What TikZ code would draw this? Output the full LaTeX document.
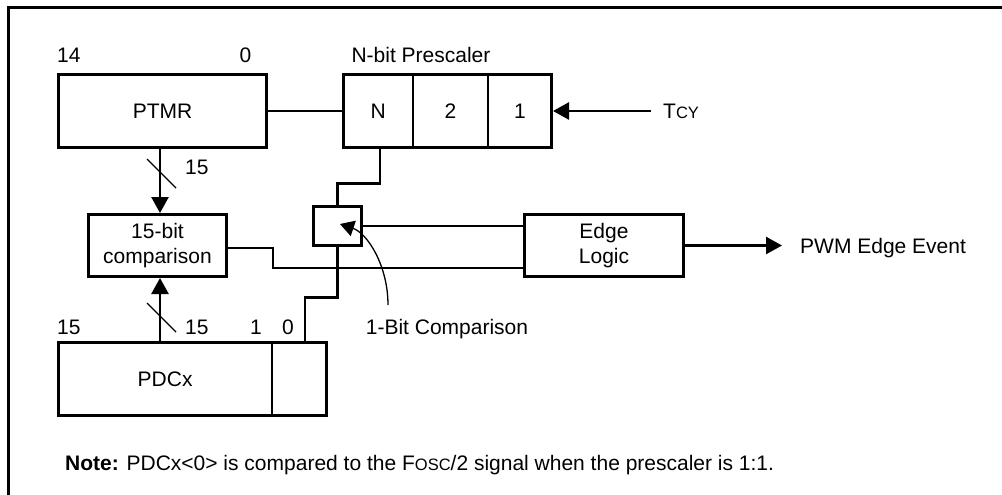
\documentclass[tikz,border=0pt]{standalone}
\usepackage{fontspec}
\setmainfont{Liberation Sans}
\usetikzlibrary{arrows.meta,calc}
\newcommand{\mysc}[1]{{\fontsize{16.5}{18}\selectfont #1}}
\begin{document}
\begin{tikzpicture}[x=1pt,y=-1pt,
  every node/.style={font=\fontsize{21}{25}\selectfont},
  box/.style 2 args={draw, line width=2.6pt, inner sep=0pt, minimum width=#1, minimum height=#2, align=center},
  lbl/.style={inner sep=0pt, text height=15pt, text depth=0pt},
  wire/.style={line width=2.6pt},
  arr/.style={wire, -{Triangle[length=16pt,width=17pt]}},
  thinln/.style={line width=1.3pt},
  line join=miter]
\useasboundingbox (0,0) rectangle (1002,495);
% frame
\draw[line width=2.6pt] (8.5,495) -- (8.5,7.8) -- (1002,7.8);

% blocks
\node[box={208.4}{73.4}] (ptmr) at (162.5,111) {PTMR};
\node[box={69.7}{73.4}] (pN) at (378.15,111) {N};
\node[box={75}{73.4}] (p2) at (450.5,111) {2};
\node[box={63.7}{73.4}] (p1) at (519.85,111) {1};
\node[box={138.4}{62.4}] (cmp) at (157.5,245.5) {15-bit\\comparison};
\node[box={48.4}{39.4}] (bitbox) at (337.5,226) {};
\node[box={159.4}{62.4}] (edge) at (604,245.5) {Edge\\Logic};
\node[box={213.7}{73.4}] (pdcx) at (165.15,379) {PDCx};
\node[box={54.7}{73.4}] (pdc0) at (299.35,379) {};

% labels
\node[lbl, anchor=west] (l14) at (57,55) {14};
\node[lbl] (l0) at (245.5,55) {0};
\node[lbl] (lpre) at (421,55) {N-bit Prescaler};
\node[lbl, anchor=west] (l15a) at (185,167) {15};
\node[lbl, anchor=west] (l15b) at (185,327) {15};
\node[lbl, anchor=west] (l15c) at (57,327) {15};
\node[lbl] (lb1) at (256,327) {1};
\node[lbl] (lb0) at (288,327) {0};
\node[lbl] (l1bit) at (447,327) {1-Bit Comparison};
\node[lbl, anchor=west] (pwm) at (800,245.5) {PWM Edge Event};
\node[lbl, anchor=west] (tcy) at (663,111) {T\mysc{CY}};
\node[lbl, anchor=west] (note) at (65,463) {\textbf{Note:} PDCx<0> is compared to the F\mysc{OSC}/2 signal when the prescaler is 1:1.};

% helper coordinates
\coordinate (c1) at (160,0);
\coordinate (j1) at (380,183.5);
\coordinate (j2) at (273,268);
\coordinate (j3) at (0,248);
\coordinate (j4) at (305,297.5);
\coordinate (pwmtip) at (782,245.5);
\coordinate (tcyst) at (651,111);
\coordinate (cs) at (388,305);
\coordinate (ctip) at (340,224);

% connectors
\draw[wire] (ptmr.east) -- (pN.west);
\draw[arr] (c1 |- ptmr.south) -- (c1 |- cmp.north);
\draw[arr] (c1 |- pdcx.north) -- (c1 |- cmp.south);
\draw[wire] (j1 |- pN.south) -- (j1) -| (bitbox.north);
\draw[wire] (bitbox.east) -- (bitbox.east -| edge.west);
\draw[wire] (cmp.east |- j3) -| (j2) -- (j2 -| edge.west);
\draw[wire] (j4 |- pdc0.north) -- (j4) -| (bitbox.south);
\draw[arr] (edge.east) -- (pwmtip);
\draw[arr] (tcyst) -- (p1.east);

% bus slashes
\draw[thinln] (147,159) -- (176,188);
\draw[thinln] (147,303) -- (176,332);

% pointer curve
\draw[thinln, -{Triangle[length=14pt,width=16pt]}] (cs) .. controls (388,265) and (367,233) .. (ctip);
\end{tikzpicture}
\end{document}
